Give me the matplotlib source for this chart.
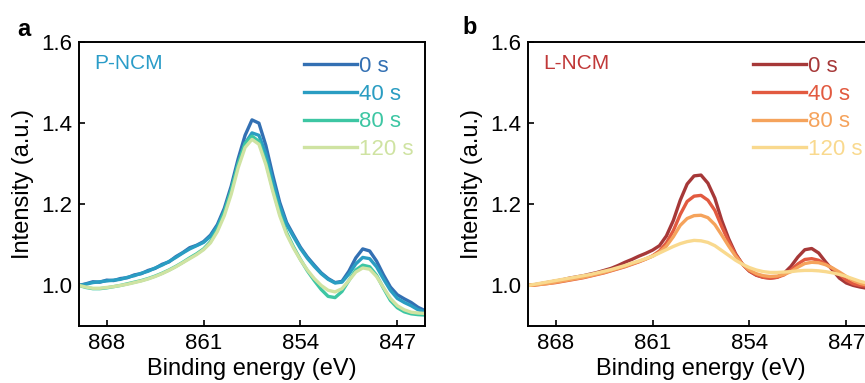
import numpy as np
import matplotlib
matplotlib.use('Agg')
import matplotlib.pyplot as plt

plt.rcParams['font.family'] = ['Liberation Sans', 'DejaVu Sans']

# binding energy grid (eV), 870 -> 845
energy = [870.0, 869.5, 869.0, 868.5, 868.0, 867.5, 867.0, 866.5, 866.0, 865.5,
          865.0, 864.5, 864.0, 863.5, 863.0, 862.5, 862.0, 861.5, 861.0, 860.5,
          860.0, 859.5, 859.0, 858.5, 858.0, 857.5, 857.0, 856.5, 856.0, 855.5,
          855.0, 854.5, 854.0, 853.5, 853.0, 852.5, 852.0, 851.5, 851.0, 850.5,
          850.0, 849.5, 849.0, 848.5, 848.0, 847.5, 847.0, 846.5, 846.0, 845.5,
          845.0]

labels = ['0 s', '40 s', '80 s', '120 s']

# ---- panel a : P-NCM ----
p_0s = [1.000, 1.004, 1.009, 1.008, 1.013, 1.012, 1.017, 1.019, 1.026, 1.029,
        1.037, 1.042, 1.052, 1.058, 1.071, 1.081, 1.093, 1.099, 1.108, 1.124,
        1.150, 1.190, 1.245, 1.312, 1.370, 1.408, 1.400, 1.345, 1.272, 1.205,
        1.155, 1.124, 1.094, 1.070, 1.050, 1.031, 1.017, 1.007, 1.010, 1.035,
        1.068, 1.090, 1.085, 1.060, 1.026, 0.996, 0.977, 0.967, 0.958, 0.946,
        0.938]
p_40s = [1.000, 1.003, 1.007, 1.009, 1.011, 1.013, 1.015, 1.020, 1.024, 1.030,
         1.035, 1.043, 1.050, 1.059, 1.069, 1.080, 1.090, 1.098, 1.106, 1.121,
         1.146, 1.183, 1.235, 1.300, 1.350, 1.376, 1.370, 1.325, 1.258, 1.196,
         1.150, 1.120, 1.091, 1.067, 1.047, 1.029, 1.015, 1.006, 1.008, 1.028,
         1.053, 1.069, 1.066, 1.046, 1.016, 0.988, 0.968, 0.958, 0.950, 0.940,
         0.935]
p_80s = [1.000, 0.995, 0.992, 0.992, 0.994, 0.997, 1.000, 1.004, 1.008, 1.012,
         1.017, 1.023, 1.030, 1.038, 1.047, 1.057, 1.068, 1.078, 1.090, 1.108,
         1.138, 1.180, 1.235, 1.300, 1.350, 1.368, 1.355, 1.305, 1.238, 1.178,
         1.130, 1.095, 1.064, 1.036, 1.012, 0.990, 0.973, 0.970, 0.985, 1.012,
         1.038, 1.050, 1.046, 1.025, 0.993, 0.963, 0.945, 0.935, 0.930, 0.928,
         0.927]
p_120s = [1.000, 0.996, 0.993, 0.993, 0.995, 0.997, 1.000, 1.003, 1.007, 1.011,
          1.016, 1.022, 1.029, 1.037, 1.046, 1.056, 1.066, 1.076, 1.088, 1.105,
          1.133, 1.172, 1.225, 1.290, 1.340, 1.360, 1.348, 1.298, 1.232, 1.172,
          1.126, 1.092, 1.063, 1.038, 1.017, 1.000, 0.988, 0.984, 0.992, 1.012,
          1.033, 1.043, 1.040, 1.022, 0.995, 0.968, 0.950, 0.940, 0.934, 0.932,
          0.931]

# ---- panel b : L-NCM ----
l_0s = [1.000, 1.002, 1.005, 1.008, 1.011, 1.014, 1.018, 1.021, 1.024, 1.028,
        1.032, 1.037, 1.042, 1.049, 1.057, 1.064, 1.072, 1.079, 1.087, 1.098,
        1.122, 1.160, 1.210, 1.250, 1.270, 1.272, 1.252, 1.215, 1.160, 1.115,
        1.078, 1.052, 1.035, 1.025, 1.020, 1.018, 1.020, 1.030, 1.047, 1.070,
        1.088, 1.091, 1.080, 1.058, 1.038, 1.018, 1.006, 1.000, 0.996, 0.993,
        0.990]
l_40s = [1.000, 1.001, 1.003, 1.005, 1.007, 1.010, 1.013, 1.016, 1.019, 1.023,
         1.027, 1.031, 1.036, 1.041, 1.046, 1.052, 1.058, 1.065, 1.073, 1.085,
         1.105, 1.135, 1.175, 1.207, 1.220, 1.222, 1.210, 1.185, 1.145, 1.108,
         1.076, 1.052, 1.036, 1.026, 1.020, 1.018, 1.020, 1.026, 1.038, 1.053,
         1.064, 1.066, 1.062, 1.053, 1.042, 1.028, 1.013, 1.004, 1.000, 0.998,
         0.996]
l_80s = [1.000, 1.001, 1.003, 1.005, 1.008, 1.011, 1.014, 1.017, 1.020, 1.024,
         1.028, 1.032, 1.037, 1.042, 1.047, 1.053, 1.059, 1.065, 1.072, 1.082,
         1.097, 1.120, 1.148, 1.165, 1.172, 1.173, 1.167, 1.150, 1.124, 1.097,
         1.072, 1.052, 1.038, 1.029, 1.024, 1.022, 1.023, 1.027, 1.034, 1.045,
         1.054, 1.057, 1.056, 1.051, 1.043, 1.033, 1.022, 1.012, 1.005, 1.001,
         0.998]
l_120s = [1.000, 1.003, 1.006, 1.009, 1.012, 1.015, 1.018, 1.021, 1.024, 1.027,
          1.031, 1.035, 1.039, 1.044, 1.049, 1.055, 1.060, 1.066, 1.072, 1.080,
          1.088, 1.096, 1.103, 1.108, 1.111, 1.110, 1.106, 1.098, 1.086, 1.074,
          1.062, 1.052, 1.044, 1.038, 1.034, 1.032, 1.032, 1.033, 1.034, 1.036,
          1.037, 1.037, 1.036, 1.034, 1.031, 1.027, 1.022, 1.016, 1.010, 1.006,
          1.003]

p_colors = ['#3370b3', '#2a9dc2', '#3dc6a3', '#cfe3a2']
l_colors = ['#a63838', '#e25a40', '#f5a35c', '#f9d98e']

W, H = 865, 383
fig = plt.figure(figsize=(W / 100, H / 100), dpi=100)

# same size axes for both panels; b runs past the right edge (cropped like the original)
ax_a = fig.add_axes([79 / W, 57 / H, 346 / W, 284 / H])
ax_b = fig.add_axes([528 / W, 57 / H, 346 / W, 284 / H])

panels = [
    (ax_a, [p_0s, p_40s, p_80s, p_120s], p_colors, 'P-NCM', '#2a9cc8'),
    (ax_b, [l_0s, l_40s, l_80s, l_120s], l_colors, 'L-NCM', '#c03838'),
]

for ax, series, colors, name, name_color in panels:
    for y, c, lab in zip(series, colors, labels):
        ax.plot(energy, y, color=c, lw=2.4, label=lab)
    ax.set_xlim(870, 845)
    ax.set_ylim(0.9, 1.6)
    ax.set_xticks([868, 861, 854, 847])
    ax.set_yticks([1.0, 1.2, 1.4, 1.6])
    ax.tick_params(direction='in', length=4, width=1.2, labelsize=16, pad=5)
    for s in ax.spines.values():
        s.set_linewidth(1.4)
    ax.set_xlabel('Binding energy (eV)', fontsize=17, labelpad=3)
    ax.set_ylabel('Intensity (a.u.)', fontsize=17, labelpad=5)
    ax.text(0.045, 0.925, name, transform=ax.transAxes, color=name_color,
            fontsize=15, va='center', ha='left')
    ax.legend(loc='upper left', bbox_to_anchor=(0.605, 1.005), frameon=False,
              fontsize=16, handlelength=2.4, handletextpad=0.1,
              labelspacing=0.3, borderaxespad=0.3, labelcolor='linecolor')

fig.text(17 / W, 1 - 30 / H, 'a', fontsize=17, fontweight='heavy', va='center')
fig.text(462 / W, 1 - 28 / H, 'b', fontsize=17, fontweight='heavy', va='center')

fig.savefig('out.png', dpi=100)
